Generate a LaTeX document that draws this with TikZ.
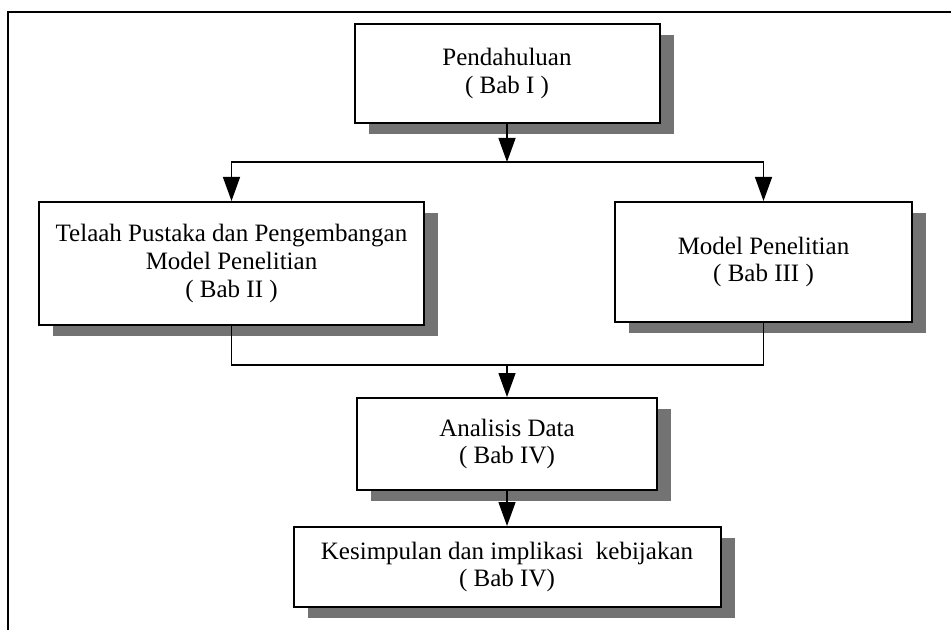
\documentclass[tikz,border=0pt]{standalone}
\usepackage{fontspec}
\setmainfont{Liberation Serif}
\usepackage{tikz}
\usetikzlibrary{arrows.meta,shadows}

\begin{document}
\begin{tikzpicture}[x=0.5pt, y=-0.5pt,
    chapbox/.style={draw, line width=1pt, fill=white, align=center, inner sep=0pt,
        font=\fontsize{12.5}{13.8}\selectfont,
        drop shadow={shadow xshift=7pt, shadow yshift=-5.5pt, fill=black!55, opacity=1}},
    arr/.style={line width=0.7pt, -{Triangle[width=8.5pt,length=12pt]}},
    link/.style={line width=0.7pt}]
    \clip (0,0) rectangle (951,630);

    % Outer frame (only left and top edges in view)
    \draw[line width=1pt] (8,640) -- (8,12) -- (960,12);

    % Pendahuluan
    \node[chapbox, minimum width=152.5pt, minimum height=49.5pt] (pendahuluan) at (507,73.5)
        {Pendahuluan\\( Bab I )};

    % Telaah Pustaka - Model Penelitian
    \node[chapbox, minimum width=192.5pt, minimum height=61.5pt] (telaah) at (231.5,263.5)
        {Telaah Pustaka dan Pengembangan\\Model Penelitian\\( Bab II )};
    \node[chapbox, minimum width=148.5pt, minimum height=60pt] (model) at (763.5,262)
        {Model Penelitian\\( Bab III )};

    % Analisis Data
    \node[chapbox, minimum width=150pt, minimum height=46pt] (analisis) at (507,444)
        {Analisis Data\\( Bab IV)};

    % Kesimpulan
    \node[chapbox, minimum width=213.5pt, minimum height=40pt] (kesimpulan) at (507,567)
        {Kesimpulan dan implikasi~ kebijakan\\( Bab IV)};

    % Split and merge points
    \coordinate (split) at (507,162);
    \coordinate (merge) at (507,365);

    % Connectors
    \draw[arr] (pendahuluan.south) -- (split);
    \draw[arr] (split) -| (telaah.north);
    \draw[arr] (split) -| (model.north);
    \draw[link] (telaah.south) |- (merge);
    \draw[link] (model.south) |- (merge);
    \draw[arr] (merge) -- (analisis.north);
    \draw[arr] (analisis.south) -- (kesimpulan.north);
\end{tikzpicture}
\end{document}
